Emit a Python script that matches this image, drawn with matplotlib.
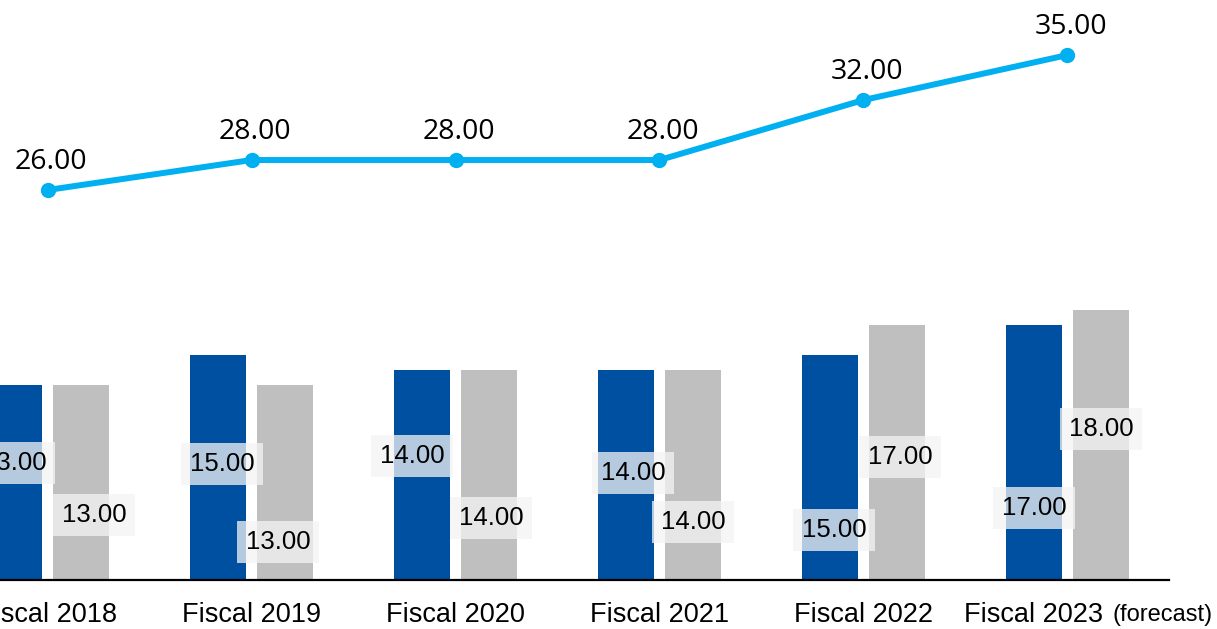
import matplotlib
matplotlib.use("Agg")
import matplotlib.pyplot as plt
import numpy as np

############################## DATA ##############################
categories = ["Fiscal 2018", "Fiscal 2019", "Fiscal 2020", "Fiscal 2021", "Fiscal 2022", "Fiscal 2023"]
interim = [13.00, 15.00, 14.00, 14.00, 15.00, 17.00]     # blue bars
year_end = [13.00, 13.00, 14.00, 14.00, 17.00, 18.00]    # gray bars
annual = [26.00, 28.00, 28.00, 28.00, 32.00, 35.00]      # line
################################ FIN ################################

# label placement (layout only)
interim_lbl_y = [7.8, 7.73, 8.27, 7.13, 3.33, 4.8]
interim_lbl_dx = [0.0, 0.02, -0.05, 0.035, 0.02, 0.0]
year_end_lbl_y = [4.33, 2.53, 4.13, 3.87, 8.2, 10.07]
year_end_lbl_dx = [0.064, -0.034, 0.01, 0.0, 0.015, 0.0]

BLUE = "#0050A2"
GRAY = "#BFBFBF"
CYAN = "#00B0F0"

plt.rcParams['font.family'] = ['Liberation Sans', 'DejaVu Sans']

fig = plt.figure(figsize=(12.17, 6.29), dpi=100)
ax = fig.add_axes([0, 0, 1, 1])
ax.set_axis_off()

x = np.arange(len(categories))
w = 0.275
off = 0.164

ax.bar(x - off, interim, width=w, color=BLUE, zorder=2)
ax.bar(x + off, year_end, width=w, color=GRAY, zorder=2)

box = dict(boxstyle="square,pad=0.35", facecolor="#F4F4F4", edgecolor="none", alpha=0.75)
for i in range(len(x)):
    ax.text(x[i] - off + interim_lbl_dx[i], interim_lbl_y[i], "%.2f" % interim[i],
            ha="center", va="center", fontsize=18.5, color="black", bbox=box, zorder=3)
    ax.text(x[i] + off + year_end_lbl_dx[i], year_end_lbl_y[i], "%.2f" % year_end[i],
            ha="center", va="center", fontsize=18.5, color="black", bbox=box, zorder=3)

# total line
ax.plot(x, annual, color=CYAN, linewidth=4.3, marker="o", markersize=10, zorder=4)
for i in range(len(x)):
    ax.text(x[i] + 0.015, annual[i] + 1.9, "%.2f" % annual[i], ha="center", va="center",
            fontsize=20.5, family=["Open Sans", "DejaVu Sans"], zorder=5)

# baseline
ax.plot([-0.3, 5.5], [0, 0], color="black", linewidth=1.6, zorder=3)

# category labels
for i in range(len(x) - 1):
    ax.text(x[i], -2.35, categories[i], ha="center", va="center", fontsize=19.5)
ax.text(x[-1] + 0.174, -2.35, categories[-1], ha="right", va="center", fontsize=19.5)
ax.text(x[-1] + 0.22, -2.35, "(forecast)", ha="left", va="center", fontsize=17)

ax.set_xlim(-0.233, 5.733)
ax.set_ylim(-3.27, 38.67)

fig.savefig("out.png", dpi=100)
